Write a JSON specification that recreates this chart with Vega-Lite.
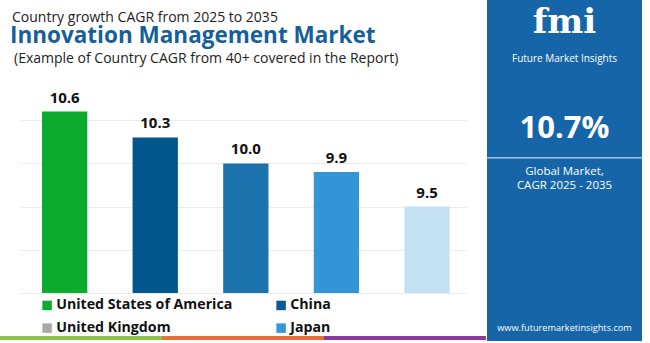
{
  "$schema": "https://vega.github.io/schema/vega-lite/v6.json",
  "padding": 0,
  "background": "#ffffff",
  "config": {"view": {"stroke": null}, "font": "Open Sans", "concat": {"spacing": 0}},
  "spacing": 0,
  "resolve": {"scale": {"color": "independent", "fill": "independent"}, "legend": {"color": "independent"}},
  "hconcat": [
    {
      "spacing": 0,
      "center": true,
      "resolve": {"scale": {"color": "independent", "fill": "independent"}, "legend": {"color": "independent"}},
      "vconcat": [
        {
          "width": 486,
          "height": 77,
          "data": {"values": [
            {"line": "l1", "label": "Country growth CAGR from 2025 to 2035"},
            {"line": "l2", "label": "Innovation Management Market"},
            {"line": "l3", "label": "(Example of Country CAGR from 40+ covered in the Report)"}
          ]},
          "encoding": {
            "x": {"field": "line", "type": "nominal", "axis": null, "scale": {"type": "point", "domain": ["l2", "l1", "l3"], "range": [10, 14], "padding": 0}},
            "y": {"field": "line", "type": "nominal", "axis": null, "scale": {"type": "point", "domain": ["l1", "s1", "s2", "s3", "l2", "s5", "s6", "s7", "s8", "l3"], "range": [18, 58.5], "padding": 0}},
            "text": {"field": "label"}
          },
          "layer": [
            {
              "transform": [{"filter": "datum.line !== 'l2'"}],
              "mark": {"type": "text", "align": "left", "baseline": "middle", "font": "Open Sans", "fontSize": 14, "color": "#222222"}
            },
            {
              "transform": [{"filter": "datum.line === 'l2'"}],
              "mark": {"type": "text", "align": "left", "baseline": "middle", "font": "Open Sans", "fontSize": 22.5, "fontWeight": "bold", "color": "#165f99"}
            }
          ]
        },
        {
          "width": 446,
          "height": 216,
          "data": {"values": [
            {"country": "United States of America", "cagr": 10.6},
            {"country": "China", "cagr": 10.3},
            {"country": "United Kingdom", "cagr": 10.0},
            {"country": "Japan", "cagr": 9.9},
            {"country": "Germany", "cagr": 9.5}
          ]},
          "resolve": {"scale": {"color": "independent"}, "legend": {"color": "independent"}},
          "encoding": {
            "x": {"field": "country", "type": "nominal", "sort": null, "axis": null, "scale": {"paddingInner": 0.5, "paddingOuter": 0.2115, "align": 0.574}},
            "y": {"field": "cagr", "type": "quantitative", "scale": {"domain": [8.5, 11], "zero": false, "nice": false},
                  "axis": {"values": [8.5, 9, 9.5, 10, 10.5], "labels": false, "ticks": false, "domain": false, "title": null, "grid": true, "gridColor": "#ebebeb", "gridWidth": 1}}
          },
          "layer": [
            {
              "mark": {"type": "bar"},
              "encoding": {
                "y2": {"datum": 8.5},
                "color": {"field": "country", "type": "nominal", "legend": null,
                  "scale": {"domain": ["United States of America", "China", "United Kingdom", "Japan", "Germany"], "range": ["#0aab2e", "#03568c", "#1b72ad", "#3296d6", "#c4e1f2"]}}
              }
            },
            {
              "mark": {"type": "text", "dy": -14, "fontSize": 15, "fontWeight": "bold", "color": "#111111", "font": "Open Sans"},
              "encoding": {"text": {"field": "cagr", "type": "quantitative", "format": ".1f"}}
            },
            {
              "mark": {"type": "square", "opacity": 0},
              "encoding": {
                "color": {"field": "country", "type": "nominal",
                  "scale": {"domain": ["United States of America", "China", "United Kingdom", "Japan"], "range": ["#0aab2e", "#0a5a92", "#a8a8a8", "#3498d8"]},
                  "legend": {"orient": "none", "legendX": 20, "legendY": 221, "columns": 2, "direction": "horizontal", "title": null,
                    "symbolType": "square", "symbolSize": 90, "symbolOpacity": 1, "symbolStrokeWidth": 0, "labelFont": "Open Sans", "labelFontSize": 14.2, "labelFontWeight": "bold", "labelColor": "#111111", "labelOffset": 2, "columnPadding": 41, "rowPadding": 8, "labelLimit": 300}}
              }
            }
          ]
        },
        {
          "width": 486,
          "height": 4,
          "data": {"values": [{"segment": "first"}, {"segment": "second"}, {"segment": "third"}]},
          "mark": {"type": "bar"},
          "encoding": {
            "x": {"field": "segment", "type": "nominal", "axis": null, "scale": {"paddingInner": 0, "paddingOuter": 0}},
            "fill": {"field": "segment", "type": "nominal", "legend": null, "scale": {"domain": ["first", "second", "third"], "range": ["#8cc14c", "#e5703c", "#8c3a9c"]}}
          }
        }
      ]
    },
    {
      "width": 155,
      "height": 341,
      "view": {"fill": "#1565a8", "stroke": null},
      "data": {"values": [
        {"item": "logo", "label": "fmi"},
        {"item": "brand", "label": "Future Market Insights"},
        {"item": "value", "label": "10.7%"},
        {"item": "rule", "label": ""},
        {"item": "global", "label": "Global Market,"},
        {"item": "period", "label": "CAGR 2025 - 2035"},
        {"item": "url", "label": "www.futuremarketinsights.com"}
      ]},
      "encoding": {
        "y": {"field": "item", "type": "nominal", "axis": null,
          "scale": {"type": "point", "padding": 0, "range": [23.2, 327.7],
            "domain": ["logo", "g1", "g2", "g3", "g4", "brand", "g6", "g7", "g8", "g9", "g10", "g11", "g12", "g13", "g14", "value", "g16", "g17", "g18", "rule", "g20", "global", "g22", "period", "g24", "g25", "g26", "g27", "g28", "g29", "g30", "g31", "g32", "g33", "g34", "g35", "g36", "g37", "g38", "g39", "g40", "g41", "g42", "url"]}},
        "text": {"field": "label"}
      },
      "layer": [
        {
          "transform": [{"filter": "datum.item === 'logo'"}],
          "mark": {"type": "text", "font": "DejaVu Serif", "fontWeight": "bold", "fontSize": 34, "color": "#ffffff", "baseline": "middle"}
        },
        {
          "transform": [{"filter": "datum.item === 'value'"}],
          "mark": {"type": "text", "font": "Open Sans", "fontWeight": "bold", "fontSize": 31, "color": "#ffffff", "baseline": "middle"}
        },
        {
          "transform": [{"filter": "datum.item === 'brand'"}],
          "mark": {"type": "text", "font": "Open Sans", "fontSize": 10, "color": "#ffffff", "baseline": "middle"}
        },
        {
          "transform": [{"filter": "datum.item === 'global' || datum.item === 'period'"}],
          "mark": {"type": "text", "font": "Open Sans", "fontSize": 11.5, "color": "#ffffff", "baseline": "middle"}
        },
        {
          "transform": [{"filter": "datum.item === 'url'"}],
          "mark": {"type": "text", "font": "Open Sans", "fontSize": 9.2, "color": "#ffffff", "baseline": "middle"}
        },
        {
          "transform": [{"filter": "datum.item === 'rule'"}],
          "mark": {"type": "rule", "color": "#a9c4e0", "strokeWidth": 1.5},
          "encoding": {}
        }
      ]
    }
  ]
}
